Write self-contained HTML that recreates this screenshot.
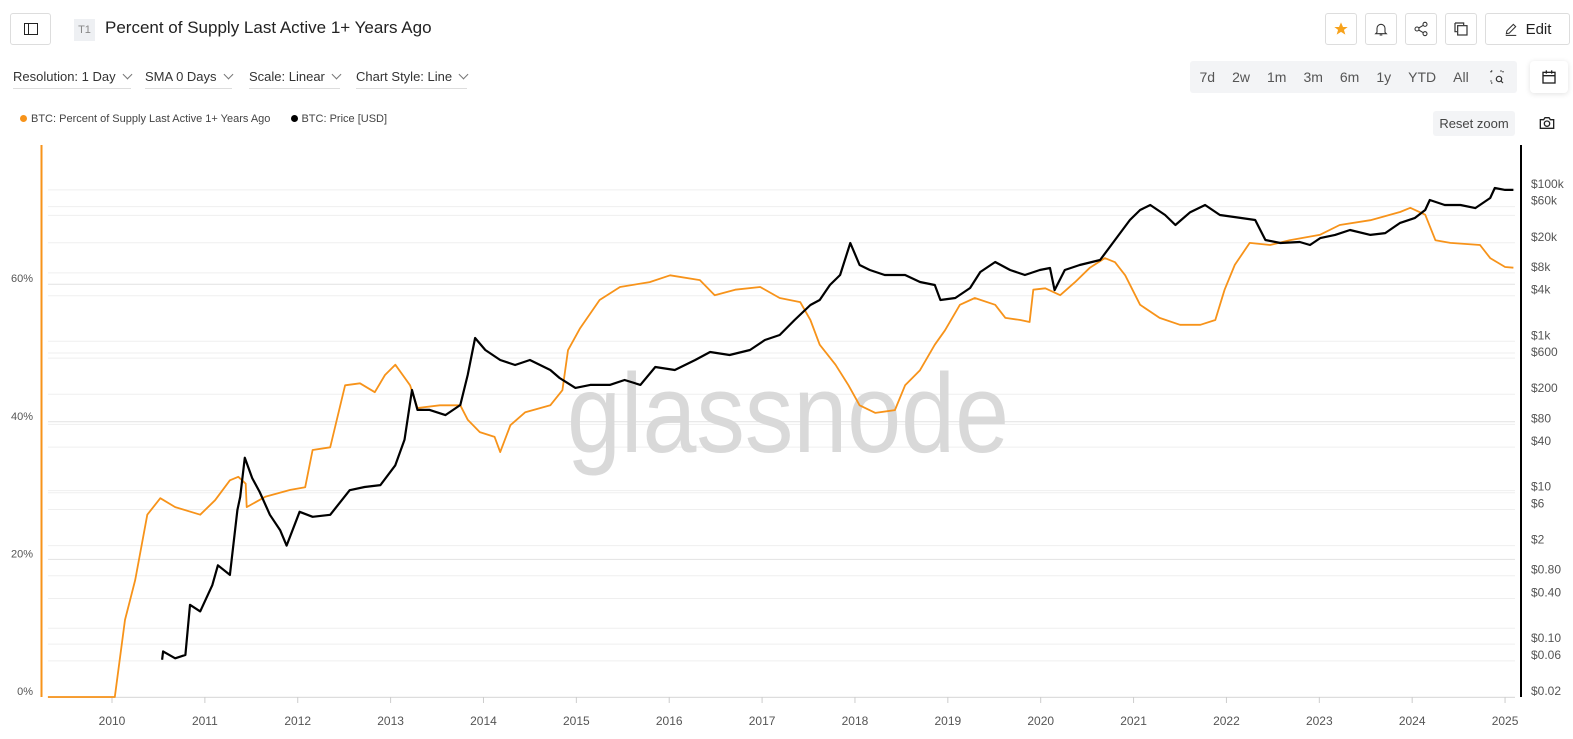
<!DOCTYPE html>
<html><head><meta charset="utf-8">
<style>
*{box-sizing:border-box;margin:0;padding:0}
body{width:1573px;height:739px;background:#fff;font-family:"Liberation Sans",sans-serif;color:#222;position:relative;overflow:hidden}
.abs{position:absolute}
.btn{position:absolute;top:13px;height:32px;border:1px solid #ddd;border-radius:3px;background:#fff;display:flex;align-items:center;justify-content:center}
.dd{position:absolute;top:69px;font-size:13px;color:#333;padding-bottom:4px;border-bottom:1px solid #ddd;white-space:nowrap}
.dd:after{content:"";display:inline-block;width:6px;height:6px;border-right:1px solid #777;border-bottom:1px solid #777;transform:rotate(45deg);margin-left:8px;position:relative;top:-3px}
.rng{position:absolute;top:61px;height:32px;background:#f3f4f6;display:flex;align-items:center;font-size:14px;color:#555}
.rng span{padding:0 8.5px}
</style></head><body>
<div class="btn" style="left:10px;width:41px"><svg width="14" height="12"><rect x="0.5" y="0.5" width="13" height="11" fill="none" stroke="#222"/><line x1="4.5" y1="0" x2="4.5" y2="12" stroke="#222"/></svg></div>
<div class="abs" style="left:74px;top:19px;width:12px;height:22px;background:#eef0f3;font-size:11px;color:#888;line-height:22px;width:21px;text-align:center">T1</div>
<div class="abs" style="left:105px;top:18px;font-size:17px;color:#222">Percent of Supply Last Active 1+ Years Ago</div>

<div class="btn" style="left:1325px;width:32px"><svg width="16" height="16" viewBox="0 0 24 24"><path d="M12 2l3 7h7l-5.6 4.3 2.1 7.2L12 16.3 5.5 20.5l2.1-7.2L2 9h7z" fill="#f7a21b"/></svg></div>
<div class="btn" style="left:1365px;width:32px"><svg width="16" height="16" viewBox="0 0 24 24" fill="none" stroke="#333" stroke-width="1.6"><path d="M6 17V11a6 6 0 0112 0v6l2 2H4z"/><path d="M10 21h4"/></svg></div>
<div class="btn" style="left:1405px;width:32px"><svg width="16" height="16" viewBox="0 0 24 24" fill="none" stroke="#333" stroke-width="1.6"><circle cx="18" cy="5" r="3"/><circle cx="6" cy="12" r="3"/><circle cx="18" cy="19" r="3"/><path d="M8.6 10.5l6.8-4M8.6 13.5l6.8 4"/></svg></div>
<div class="btn" style="left:1445px;width:32px"><svg width="16" height="16" viewBox="0 0 24 24" fill="none" stroke="#333" stroke-width="1.8"><path d="M3 3h13v3"/><path d="M3 3v13h3"/><rect x="7" y="7" width="14" height="14"/></svg></div>
<div class="btn" style="left:1485px;width:85px;font-size:15px;color:#222;gap:8px"><svg width="14" height="14" viewBox="0 0 24 24" fill="none" stroke="#333" stroke-width="1.8"><path d="M4 20l1-5L16 4l4 4L9 19z"/><path d="M3 23h18"/></svg>Edit</div>

<div class="dd" style="left:13px">Resolution: 1 Day</div>
<div class="dd" style="left:145px">SMA 0 Days</div>
<div class="dd" style="left:249px">Scale: Linear</div>
<div class="dd" style="left:356px">Chart Style: Line</div>

<div class="rng" style="left:1190px;width:286px;border-radius:3px 0 0 3px;padding-left:1px">
<span>7d</span><span>2w</span><span>1m</span><span>3m</span><span>6m</span><span>1y</span><span>YTD</span><span>All</span></div>
<div class="rng" style="left:1476px;width:41px;justify-content:center;border-radius:0 3px 3px 0"><svg width="16" height="16" viewBox="0 0 24 24" fill="none" stroke="#333" stroke-width="1.8"><path d="M3 3h4M3 3v4M17 3h4v4M3 17v4h4" stroke-dasharray="2 2"/><circle cx="15" cy="15" r="4"/><path d="M18 18l3 3"/></svg></div>
<div class="abs" style="left:1530px;top:61px;width:38px;height:32px;background:#fff;border-radius:4px;box-shadow:0 1px 6px rgba(0,0,0,.12);display:flex;align-items:center;justify-content:center"><svg width="16" height="16" viewBox="0 0 24 24" fill="none" stroke="#222" stroke-width="2"><rect x="3" y="5" width="18" height="16"/><path d="M3 10h18M8 2v5M16 2v5"/></svg></div>

<div class="abs" style="left:20px;top:113px;font-size:11px;color:#444;white-space:nowrap">
<span><span style="display:inline-block;width:7px;height:7px;border-radius:50%;background:#f7931a;margin-right:4px"></span>BTC: Percent of Supply Last Active 1+ Years Ago</span>
<span style="margin-left:18px"><span style="display:inline-block;width:7px;height:7px;border-radius:50%;background:#000;margin-right:3px"></span>BTC: Price [USD]</span></div>
<div class="abs" style="left:1433px;top:111px;width:82px;height:25px;background:#f3f4f6;border-radius:3px;font-size:13px;color:#444;line-height:25px;text-align:center">Reset zoom</div>
<div class="abs" style="left:1539px;top:116px"><svg width="16" height="14" viewBox="0 0 24 20" fill="none" stroke="#222" stroke-width="2"><path d="M2 5h5l2-3h6l2 3h5v13H2z"/><circle cx="12" cy="11" r="4"/></svg></div>

<svg id="chart" class="abs" style="left:0;top:0" width="1573" height="739"></svg>

<script>
const pctYears=[2009.31,2010.03,2010.14,2010.25,2010.38,2010.52,2010.68,2010.95,2011.11,2011.27,2011.36,2011.44,2011.45,2011.65,2011.92,2012.08,2012.16,2012.35,2012.51,2012.67,2012.83,2012.94,2013.05,2013.21,2013.29,2013.53,2013.75,2013.83,2013.96,2014.12,2014.18,2014.29,2014.45,2014.72,2014.85,2014.91,2015.04,2015.25,2015.47,2015.79,2016.01,2016.33,2016.49,2016.71,2016.98,2017.19,2017.41,2017.52,2017.62,2017.79,2017.93,2018.05,2018.22,2018.43,2018.54,2018.70,2018.86,2018.97,2019.13,2019.29,2019.51,2019.62,2019.78,2019.88,2019.92,2020.05,2020.21,2020.37,2020.53,2020.69,2020.80,2020.91,2021.07,2021.28,2021.50,2021.72,2021.88,2021.98,2022.09,2022.25,2022.47,2022.68,2023.01,2023.22,2023.55,2023.87,2023.98,2024.14,2024.25,2024.41,2024.73,2024.84,2025.00,2025.09];
const pctValues=[0,0,11.2,17.0,26.5,28.9,27.6,26.5,28.6,31.5,32.0,31.0,27.6,29.1,30.1,30.5,35.9,36.3,45.3,45.6,44.3,46.8,48.3,45.3,42.0,42.4,42.4,40.3,38.5,37.8,35.6,39.5,41.4,42.4,44.6,50.4,53.6,57.7,59.6,60.3,61.3,60.6,58.4,59.2,59.6,58.0,57.4,54.8,51.2,48.3,45.3,42.4,41.3,41.7,45.3,47.5,51.2,53.3,57.0,58.0,57.0,55.1,54.8,54.5,59.2,59.4,58.4,60.3,62.4,63.8,63.2,61.3,57.0,55.1,54.1,54.1,54.8,59.2,62.8,66.0,65.7,66.4,67.2,68.6,69.3,70.5,71.1,70.1,66.4,66.0,65.7,63.8,62.5,62.4];
const priceYears=[2010.54,2010.55,2010.68,2010.79,2010.84,2010.95,2011.08,2011.14,2011.27,2011.35,2011.38,2011.43,2011.51,2011.59,2011.70,2011.81,2011.88,2012.02,2012.16,2012.35,2012.56,2012.72,2012.89,2013.05,2013.15,2013.23,2013.29,2013.42,2013.59,2013.75,2013.83,2013.91,2014.02,2014.18,2014.34,2014.50,2014.72,2014.82,2014.99,2015.15,2015.36,2015.52,2015.69,2015.85,2016.06,2016.28,2016.44,2016.65,2016.87,2017.03,2017.19,2017.35,2017.52,2017.62,2017.73,2017.84,2017.95,2018.05,2018.16,2018.32,2018.54,2018.70,2018.86,2018.92,2019.08,2019.24,2019.35,2019.51,2019.67,2019.83,2019.99,2020.10,2020.15,2020.26,2020.42,2020.64,2020.80,2020.96,2021.07,2021.18,2021.34,2021.45,2021.61,2021.77,2021.93,2022.15,2022.31,2022.42,2022.58,2022.79,2022.90,2023.01,2023.17,2023.33,2023.55,2023.71,2023.87,2024.03,2024.14,2024.19,2024.35,2024.52,2024.68,2024.84,2024.89,2025.00,2025.09];
const priceValues=[0.062,0.08,0.065,0.072,0.33,0.27,0.6,1.1,0.82,5.9,8.8,29,15.6,10.2,5.1,3.2,2.0,5.6,4.8,5.1,10.8,11.9,12.6,23,50,227,124,124,106,144,359,1105,767,566,486,566,418,327,242,265,265,308,265,457,418,566,721,659,767,1040,1211,1910,3013,3510,5540,7515,19860,10190,8750,7515,7515,6070,5540,3510,3730,5060,8230,11140,8750,7515,8750,9290,4750,8750,10190,11860,21780,40000,54200,63100,46600,34400,50700,63100,46600,42600,40000,21780,19860,20500,18700,23100,25400,29500,25400,26900,36600,42600,54200,73500,63100,63100,57500,78200,106000,100000,100000];
const pctTicks=[0,20,40,60];
const pctTickLabels=["0%","20%","40%","60%"];
const priceTicks=[0.02,0.06,0.1,0.4,0.8,2,6,10,40,80,200,600,1000,4000,8000,20000,60000,100000];
const priceTickLabels=["$0.02","$0.06","$0.10","$0.40","$0.80","$2","$6","$10","$40","$80","$200","$600","$1k","$4k","$8k","$20k","$60k","$100k"];
const yearTicks=[2010,2011,2012,2013,2014,2015,2016,2017,2018,2019,2020,2021,2022,2023,2024,2025];

const NS="http://www.w3.org/2000/svg";
const svg=document.getElementById('chart');
const X0=112,YEARW=92.87;
const xs=y=>X0+(y-2010)*YEARW;
const yPct=p=>697-p*6.88;
const yPrice=v=>697-(Math.log10(v)-Math.log10(0.02))*75.7;
function mk(tag,attrs){const e=document.createElementNS(NS,tag);for(const k in attrs)e.setAttribute(k,attrs[k]);svg.appendChild(e);return e;}

// percent gridlines every 10%
for(let p=0;p<=70;p+=10){const g=mk('line',{x1:48,x2:1515,y1:yPct(p),y2:yPct(p),stroke:p%20==0?'#e2e2e2':'#efefef','stroke-width':1});

}
priceTicks.forEach(v=>{const g=mk('line',{x1:48,x2:1515,y1:yPrice(v),y2:yPrice(v),stroke:'#efefef','stroke-width':1});

});

// watermark
const wm=mk('text',{x:567,y:452,'font-size':112,fill:'#d9d9d9','font-family':'Liberation Sans, sans-serif',textLength:442,lengthAdjust:'spacingAndGlyphs'});
wm.textContent='glassnode';



// axes
const la=mk('line',{x1:41.5,x2:41.5,y1:145,y2:697,stroke:'#f7931a','stroke-width':2});


const ra=mk('line',{x1:1521,x2:1521,y1:145,y2:697,stroke:'#000','stroke-width':2});


const ba=mk('line',{x1:48,x2:1515,y1:697.5,y2:697.5,stroke:'#ddd','stroke-width':1});



pctTicks.forEach((p,i)=>{const t=mk('text',{x:33,y:yPct(p)-2,'font-size':11,fill:'#555','text-anchor':'end','font-family':'Liberation Sans, sans-serif'});t.textContent=pctTickLabels[i];

});
priceTicks.forEach((v,i)=>{const t=mk('text',{x:1531,y:yPrice(v)-2,'font-size':12,fill:'#555','font-family':'Liberation Sans, sans-serif'});t.textContent=priceTickLabels[i];

});
yearTicks.forEach(yr=>{const x=xs(yr);const tk=mk('line',{x1:x,x2:x,y1:697,y2:703,stroke:'#ccc'});


const t=mk('text',{x:x,y:725,'font-size':12,fill:'#555','text-anchor':'middle','font-family':'Liberation Sans, sans-serif'});t.textContent=yr;

});

const pctPts=pctYears.map((y,i)=>xs(y).toFixed(1)+','+yPct(pctValues[i]).toFixed(1)).join(' ');
const pl=mk('polyline',{points:pctPts,fill:'none',stroke:'#f7931a','stroke-width':1.8,'stroke-linejoin':'round'});


const prPts=priceYears.map((y,i)=>xs(y).toFixed(1)+','+yPrice(priceValues[i]).toFixed(1)).join(' ');
const bl=mk('polyline',{points:prPts,fill:'none',stroke:'#000','stroke-width':2.2,'stroke-linejoin':'round'});


</script>
</body></html>
